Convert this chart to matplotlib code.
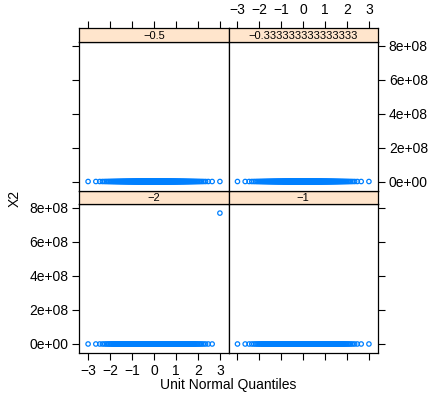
import matplotlib
matplotlib.use("Agg")
import matplotlib.pyplot as plt
import numpy as np
from statistics import NormalDist

plt.rcParams["font.family"] = ["Liberation Sans", "DejaVu Sans"]

# panel levels, in lattice drawing order (bottom-left first)
levels = ["\u22122", "\u22121", "\u22120.5", "\u22120.333333333333333"]
n_obs = 370
# large observations per panel; everything else sits at 0 on this scale
big_values = {
    "\u22122": [7.7e8],
    "\u22121": [],
    "\u22120.5": [],
    "\u22120.333333333333333": [],
}
y_ticks = [0, 2e8, 4e8, 6e8, 8e8]
y_ticklabels = ["0e+00", "2e+08", "4e+08", "6e+08", "8e+08"]
x_ticks = [-3, -2, -1, 0, 1, 2, 3]

W, H = 428, 395
fig = plt.figure(figsize=(W / 100, H / 100), dpi=100)

left, mid, right = 79.3, 228.7, 377.7
rows = {
    # (strip top, strip bottom, panel bottom) in pixels from top
    0: (190.5, 204.0, 353.0),
    1: (28.3, 41.7, 190.5),
}

def fr(x0, y0, x1, y1):
    return [x0 / W, 1 - y1 / H, (x1 - x0) / W, (y1 - y0) / H]

blue = "#0080ff"
nd = NormalDist()
tick_kw = dict(direction="out", length=5, width=0.8, labelsize=10, pad=3)

for k, lev in enumerate(levels):
    r, c = divmod(k, 2)
    st, sb, pb = rows[r]
    x0, x1 = (left, mid) if c == 0 else (mid, right)
    ax = fig.add_axes(fr(x0, sb, x1, pb))
    sax = fig.add_axes(fr(x0, st, x1, sb), sharex=ax)

    y = np.zeros(n_obs)
    vals = big_values[lev]
    if vals:
        y[-len(vals):] = vals
    y = np.sort(y)
    q = np.array([nd.inv_cdf((i - 0.5) / n_obs) for i in range(1, n_obs + 1)])
    ax.scatter(q, y, s=10, facecolors="none", edgecolors=blue, linewidths=0.9,
               zorder=3, clip_on=False)

    ax.set_xlim(-3.4, 3.4)
    ax.set_ylim(-0.53e8, 8.235e8)
    ax.set_yticks(y_ticks)
    ax.set_xticks(x_ticks)
    for sp in ax.spines.values():
        sp.set_linewidth(0.9)

    # bottom row: x ticks below, top row: x ticks above the strip
    ax.tick_params(axis="x", bottom=(r == 0), top=False,
                   labelbottom=(r == 0 and c == 0), labeltop=False, **tick_kw)
    ax.tick_params(axis="y", left=(c == 0), right=(c == 1),
                   labelleft=(r == 0 and c == 0),
                   labelright=(r == 1 and c == 1), **tick_kw)
    ax.set_yticklabels(y_ticklabels)
    ax.set_xticklabels([f"{t}".replace("-", "\u2212") for t in x_ticks])

    sax.set_facecolor("#ffe5cc")
    sax.set_yticks([])
    sax.tick_params(axis="x", bottom=False, labelbottom=False,
                    top=(r == 1), labeltop=(r == 1 and c == 1), **tick_kw)
    for sp in sax.spines.values():
        sp.set_linewidth(0.9)
    sax.text(0.5, 0.45, lev, transform=sax.transAxes, ha="center", va="center",
             fontsize=8)

fig.text(15 / W, 1 - 198 / H, "X2", rotation=90, ha="center", va="center",
         fontsize=10)
fig.text(228 / W, 1 - 385 / H, "Unit Normal Quantiles", ha="center",
         va="center", fontsize=10)

fig.savefig("out.png", dpi=100)
